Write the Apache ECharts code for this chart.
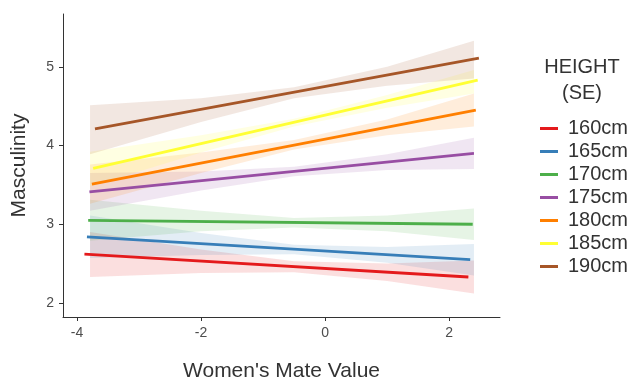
<!DOCTYPE html>
<html><head><meta charset="utf-8">
<script src="https://cdn.jsdelivr.net/npm/echarts@6/dist/echarts.min.js"></script>
<style>html,body{margin:0;padding:0;background:#fff}#c{width:634px;height:379px}</style>
</head><body><div id="c"></div>
<script>
var names = ['160cm','165cm','170cm','175cm','180cm','185cm','190cm'];
var colors = ['#E41A1C','#377EB8','#4DAF4A','#984EA3','#FF7F00','#FFFF33','#A65628'];
var xTicks = [-4, -2, 0, 2];
var yTicks = [2, 3, 4, 5];
// fitted lines: [x, y] at start and end
var line160 = [[-3.88, 2.62], [2.31, 2.33]];
var line165 = [[-3.84, 2.84], [2.34, 2.55]];
var line170 = [[-3.82, 3.05], [2.38, 3.00]];
var line175 = [[-3.80, 3.41], [2.40, 3.90]];
var line180 = [[-3.76, 3.51], [2.43, 4.45]];
var line185 = [[-3.74, 3.71], [2.46, 4.83]];
var line190 = [[-3.71, 4.21], [2.48, 5.11]];
// SE bands
var bandX = [-3.79, -2, -0.5, 1, 2.40];
var lo160 = [2.33, 2.38, 2.39, 2.28, 2.12], hi160 = [2.90, 2.68, 2.53, 2.50, 2.54];
var lo165 = [2.57, 2.61, 2.62, 2.51, 2.35], hi165 = [3.11, 2.89, 2.74, 2.71, 2.75];
var lo170 = [2.79, 2.91, 2.96, 2.91, 2.80], hi170 = [3.31, 3.17, 3.08, 3.11, 3.20];
var lo175 = [3.17, 3.43, 3.61, 3.69, 3.70], hi175 = [3.65, 3.67, 3.73, 3.89, 4.10];
var lo180 = [3.26, 3.65, 3.95, 4.13, 4.24], hi180 = [3.76, 3.91, 4.07, 4.33, 4.66];
var lo185 = [3.48, 3.91, 4.24, 4.48, 4.66], hi185 = [3.92, 4.13, 4.34, 4.64, 4.96];
var lo190 = [3.89, 4.30, 4.60, 4.76, 4.85], hi190 = [4.51, 4.60, 4.74, 5.00, 5.33];

var lines = [line160, line165, line170, line175, line180, line185, line190];
var los = [lo160, lo165, lo170, lo175, lo180, lo185, lo190];
var his = [hi160, hi165, hi170, hi175, hi180, hi185, hi190];

var FONT = 'Liberation Sans';
var series = [];
names.forEach(function (n, i) {
  series.push({
    type: 'custom', name: n + ' band', silent: true, z: 1,
    data: [[bandX[0], los[i][0]]],
    renderItem: function (params, api) {
      var pts = [];
      for (var k = 0; k < bandX.length; k++) pts.push(api.coord([bandX[k], his[i][k]]));
      for (var k = bandX.length - 1; k >= 0; k--) pts.push(api.coord([bandX[k], los[i][k]]));
      return { type: 'polygon', shape: { points: pts }, style: { fill: colors[i], opacity: 0.14 } };
    }
  });
});
names.forEach(function (n, i) {
  series.push({
    type: 'line', name: n, data: lines[i], showSymbol: false, symbol: 'none', z: 3,
    lineStyle: { color: colors[i], width: 2.8 }, itemStyle: { color: colors[i] }
  });
});

var chart = echarts.init(document.getElementById('c'));
chart.setOption({
  animation: false,
  backgroundColor: '#fff',
  grid: { left: 63, top: 14, right: 134, bottom: 62, containLabel: false, outerBoundsMode: 'none' },
  xAxis: {
    type: 'value', min: -4.226, max: 2.82,
    axisLine: { show: true, onZero: false, lineStyle: { color: '#333', width: 1 } },
    axisTick: { show: true, length: 4, customValues: xTicks, lineStyle: { color: '#333' } },
    axisLabel: { customValues: xTicks, color: '#4d4d4d', fontSize: 14, fontFamily: FONT, margin: 9 },
    splitLine: { show: false },
    name: "Women's Mate Value", nameLocation: 'middle', nameGap: 44,
    nameTextStyle: { color: '#333', fontSize: 21, fontFamily: FONT }
  },
  yAxis: {
    type: 'value', min: 1.822, max: 5.67,
    axisLine: { show: true, onZero: false, lineStyle: { color: '#333', width: 1 } },
    axisTick: { show: true, length: 4, customValues: yTicks, lineStyle: { color: '#333' } },
    axisLabel: { customValues: yTicks, color: '#4d4d4d', fontSize: 14, fontFamily: FONT, margin: 9 },
    splitLine: { show: false },
    name: 'Masculinity', nameLocation: 'middle', nameGap: 33,
    nameTextStyle: { color: '#333', fontSize: 21, fontFamily: FONT }
  },
  legend: {
    data: names, orient: 'vertical', left: 535, top: 112,
    icon: 'rect', itemWidth: 18, itemHeight: 3, itemGap: 0,
    textStyle: { fontSize: 20, fontFamily: FONT, color: '#333', lineHeight: 23, padding: [0, 0, 0, 5] }
  },
  graphic: [
    { type: 'text', x: 582, y: 67, style: { text: 'HEIGHT', font: '20px "Liberation Sans"', fill: '#333', align: 'center', verticalAlign: 'middle' } },
    { type: 'text', x: 582, y: 93, style: { text: '(SE)', font: '20px "Liberation Sans"', fill: '#333', align: 'center', verticalAlign: 'middle' } }
  ],
  series: series
});
</script></body></html>
